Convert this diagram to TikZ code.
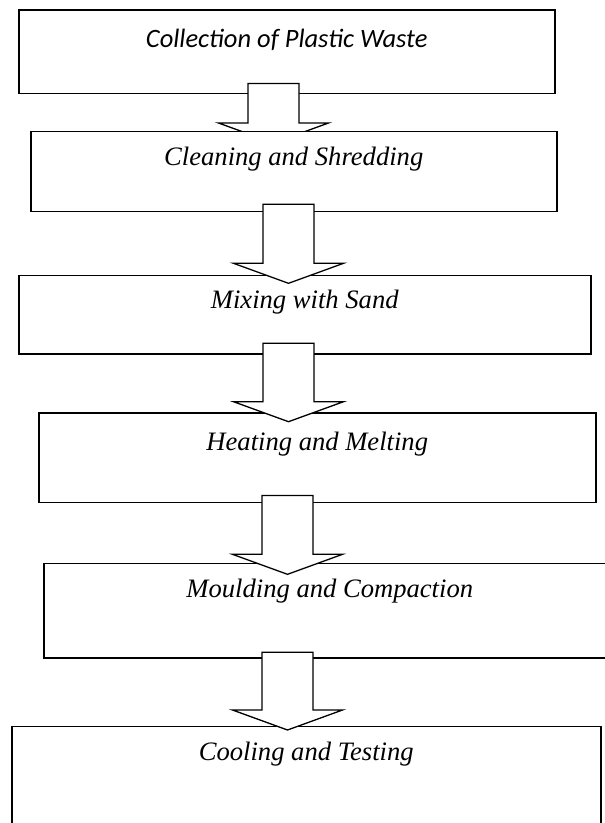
\documentclass[tikz,border=0pt]{standalone}
\usepackage{fontspec}
\setmainfont{Liberation Serif}
\newfontfamily\calibrifont{Carlito}
\usepackage{tikz}
\usetikzlibrary{positioning, calc, backgrounds}

\begin{document}
\begin{tikzpicture}[
  x=1pt, y=-1pt,
  stage/.style={
    rectangle, draw=black, fill=white, line width=1.5pt,
    anchor=north west, inner xsep=0pt, inner ysep=0pt,
    font=\fontsize{26.6}{30}\selectfont\itshape
  },
  flowarr/.style={
    draw=black, fill=white, line width=1.3pt,
    to path={let \p1=(\tikztostart), \p2=(\tikztotarget) in
      (\x1-25.5pt,\y1) -- (\x1+25.5pt,\y1) -- (\x1+25.5pt,\y2+20pt)
      -- (\x1+55pt,\y2+20pt) -- (\x2,\y2) -- (\x1-55pt,\y2+20pt)
      -- (\x1-25.5pt,\y2+20pt) -- cycle}
  },
]
\useasboundingbox (0,0) rectangle (605,823);
\clip (0,0) rectangle (605,823);

% Process stages
\begin{scope}[on background layer]
\node[stage, minimum width=536pt, text height=37.2pt, text depth=46.2pt,
  font=\fontsize{26.5}{30}\selectfont\calibrifont\itshape] (collect) at (18,9.3)
  {Collection of Plastic Waste};
\end{scope}
\node[stage, minimum width=526pt, text height=34pt, text depth=46pt] (clean) at (30,130.7)
  {Cleaning and Shredding};
\node[stage, minimum width=572pt, text height=33pt, text depth=45.6pt] (mix) at (18,274.7)
  {Mixing with Sand};
\node[stage, minimum width=557pt, text height=38pt, text depth=51.7pt] (heat) at (38,412)
  {Heating and Melting};
\node[stage, minimum width=572pt, text height=34pt, text depth=60.3pt] (mould) at (43,562.7)
  {Moulding and Compaction};
\node[stage, minimum width=589pt, text height=34.3pt, text depth=90pt] (cool) at (11,725.7)
  {Cooling and Testing};

% Arrows
\coordinate (xa) at (273.5,0);
\coordinate (xb) at (288.5,0);
\coordinate (xc) at (287.5,0);
\begin{scope}[on background layer]
\draw[flowarr] ([yshift=10.7pt]collect.south -| xa) to ([yshift=-12.3pt]clean.north -| xa);
\end{scope}
\draw[flowarr] ([yshift=8pt]clean.south -| xb) to ([yshift=-8.6pt]mix.north -| xb);
\draw[flowarr] ([yshift=11.6pt]mix.south -| xb) to ([yshift=-9.7pt]heat.north -| xb);
\draw[flowarr] ([yshift=7.7pt]heat.south -| xc) to ([yshift=-11.6pt]mould.north -| xc);
\draw[flowarr] ([yshift=6.3pt]mould.south -| xc) to ([yshift=-4.3pt]cool.north -| xc);
\end{tikzpicture}
\end{document}
